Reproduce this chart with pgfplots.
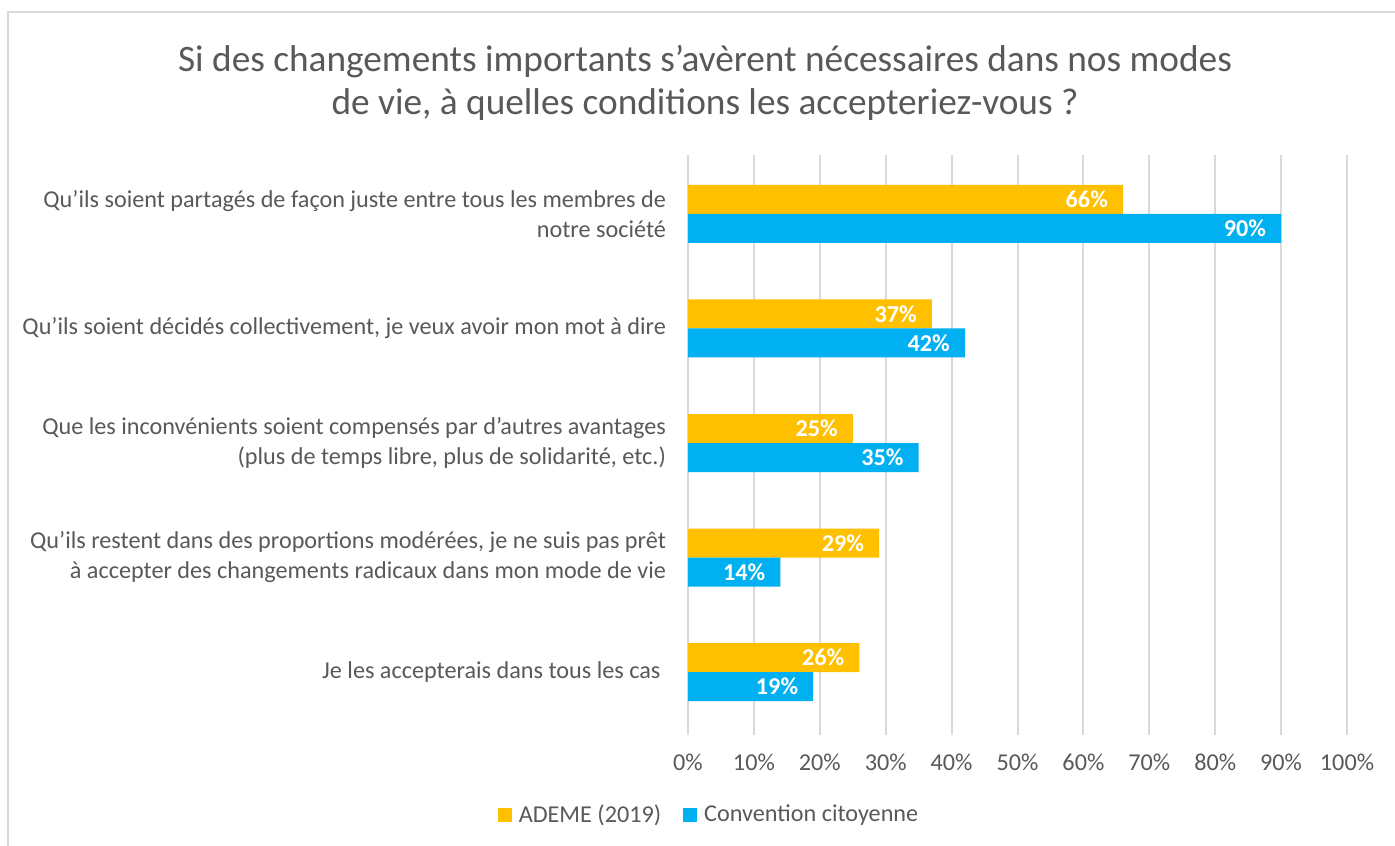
\documentclass[border=0pt]{standalone}
\usepackage{fontspec}
\setmainfont{Carlito}
\usepackage{pgfplots}
\pgfplotsset{compat=1.18}
\definecolor{ademe}{HTML}{FFC000}
\definecolor{conv}{HTML}{00B0F0}
\definecolor{txt}{HTML}{595959}
\definecolor{gridc}{HTML}{D9D9D9}
\begin{document}
\begin{tikzpicture}
\useasboundingbox (0,0) rectangle (697.5pt,-422.5pt);
\fill[white] (0,0) rectangle (697.5pt,-422.5pt);
\draw[gridc, line width=1pt] (4pt,-423pt) -- (4pt,-6pt) -- (698pt,-6pt);
\node[txt, font=\fontsize{18.65}{21.5}\selectfont, align=center] at (352.5pt,-41.5pt) {Si des changements importants s’avèrent nécessaires dans nos modes\\de vie, à quelles conditions les accepteriez-vous ?};
\begin{axis}[
  at={(344pt,-367.5pt)}, anchor=south west,
  scale only axis, width=329.5pt, height=290pt,
  xbar, bar width=14.5pt,
  xmin=0, xmax=100, ymin=-0.55, ymax=4.515,
  xtick={0,10,...,100},
  xticklabel={\pgfmathprintnumber{\tick}\%},
  ytick={0,1,2,3,4},
  yticklabels={{Je les accepterais dans tous les cas\ },
    {Qu’ils restent dans des proportions modérées, je ne suis pas prêt\\à accepter des changements radicaux dans mon mode de vie},
    {Que les inconvénients soient compensés par d’autres avantages\\(plus de temps libre, plus de solidarité, etc.)},
    {Qu’ils soient décidés collectivement, je veux avoir mon mot à dire},
    {Qu’ils soient partagés de façon juste entre tous les membres de\\notre société}},
  yticklabel style={align=right, text=txt, font=\fontsize{12.1}{15}\selectfont, xshift=-7.5pt},
  xticklabel style={text=txt, font=\fontsize{12.1}{14}\selectfont, yshift=-6pt},
  /pgf/number format/assume math mode=true,
  major tick length=0pt,
  axis line style={draw=none},
  xmajorgrids, grid style={gridc, line width=1pt},
  nodes near coords={\pgfmathprintnumber{\pgfplotspointmeta}\%},
  every node near coord/.append style={anchor=east, text=white, font=\fontsize{12.1}{14}\bfseries\selectfont, xshift=-4pt},
  legend columns=2,
  legend style={draw=none, fill=none, at={(0.0334,-0.138)}, anchor=center,
    font=\fontsize{12.1}{14}\selectfont, text=txt,
    /tikz/every even column/.append style={column sep=9pt},
    /tikz/every odd column/.append style={column sep=1.5pt}},
  legend image code/.code={\fill[#1,draw=none] (0pt,-3.5pt) rectangle (7pt,3.5pt);},
]
\addplot[fill=ademe, draw=none, bar shift=7.25pt] coordinates {(66,4) (37,3) (25,2) (29,1) (26,0)};
\addplot[fill=conv, draw=none, bar shift=-7.25pt] coordinates {(90,4) (42,3) (35,2) (14,1) (19,0)};
\legend{ADEME (2019), Convention citoyenne}
\end{axis}
\end{tikzpicture}
\end{document}
